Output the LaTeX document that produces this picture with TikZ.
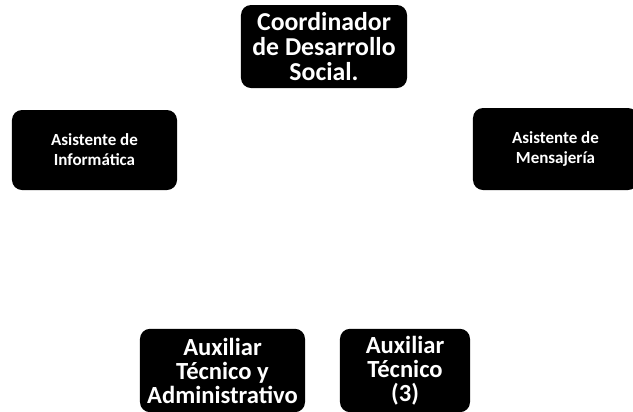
\documentclass[tikz,border=0pt]{standalone}
\usepackage{fontspec}
\setmainfont{Carlito}

\begin{document}
\begin{tikzpicture}[
  x=0.03cm, y=-0.03cm,
  box/.style={fill=black, text=white, rounded corners=0.3cm, align=center, inner sep=0pt, font=\bfseries},
  big/.style={font=\bfseries\fontsize{22}{21.5}\selectfont},
  mid/.style={font=\bfseries\fontsize{21}{20.5}\selectfont},
  small/.style={font=\bfseries\fontsize{14.5}{17}\selectfont},
]
\clip (0,0) rectangle (633,411);
\fill[white] (0,0) rectangle (633,411);

% --- Top ---
\node[box, big, minimum width=4.98cm, minimum height=2.49cm] (coord) at (324, 46.5) {Coordinador\\de Desarrollo\\Social.};

% --- Middle row ---
\node[box, small, minimum width=4.95cm, minimum height=2.4cm] (info) at (94.5, 150) {Asistente de\\Inform\'atica};
\node[box, small, minimum width=4.95cm, minimum height=2.46cm] (mens) at (555.5, 149) {Asistente de\\Mensajer\'ia};

% --- Bottom row ---
\node[box, mid, minimum width=4.95cm, minimum height=2.5cm] (auxadm) at (222.5, 370.5) {Auxiliar\\T\'ecnico y\\Administrativo};
\node[box, mid, minimum width=3.9cm, minimum height=2.5cm] (auxtec) at (405, 370.5) {Auxiliar\\T\'ecnico\\(3)};

\end{tikzpicture}
\end{document}
